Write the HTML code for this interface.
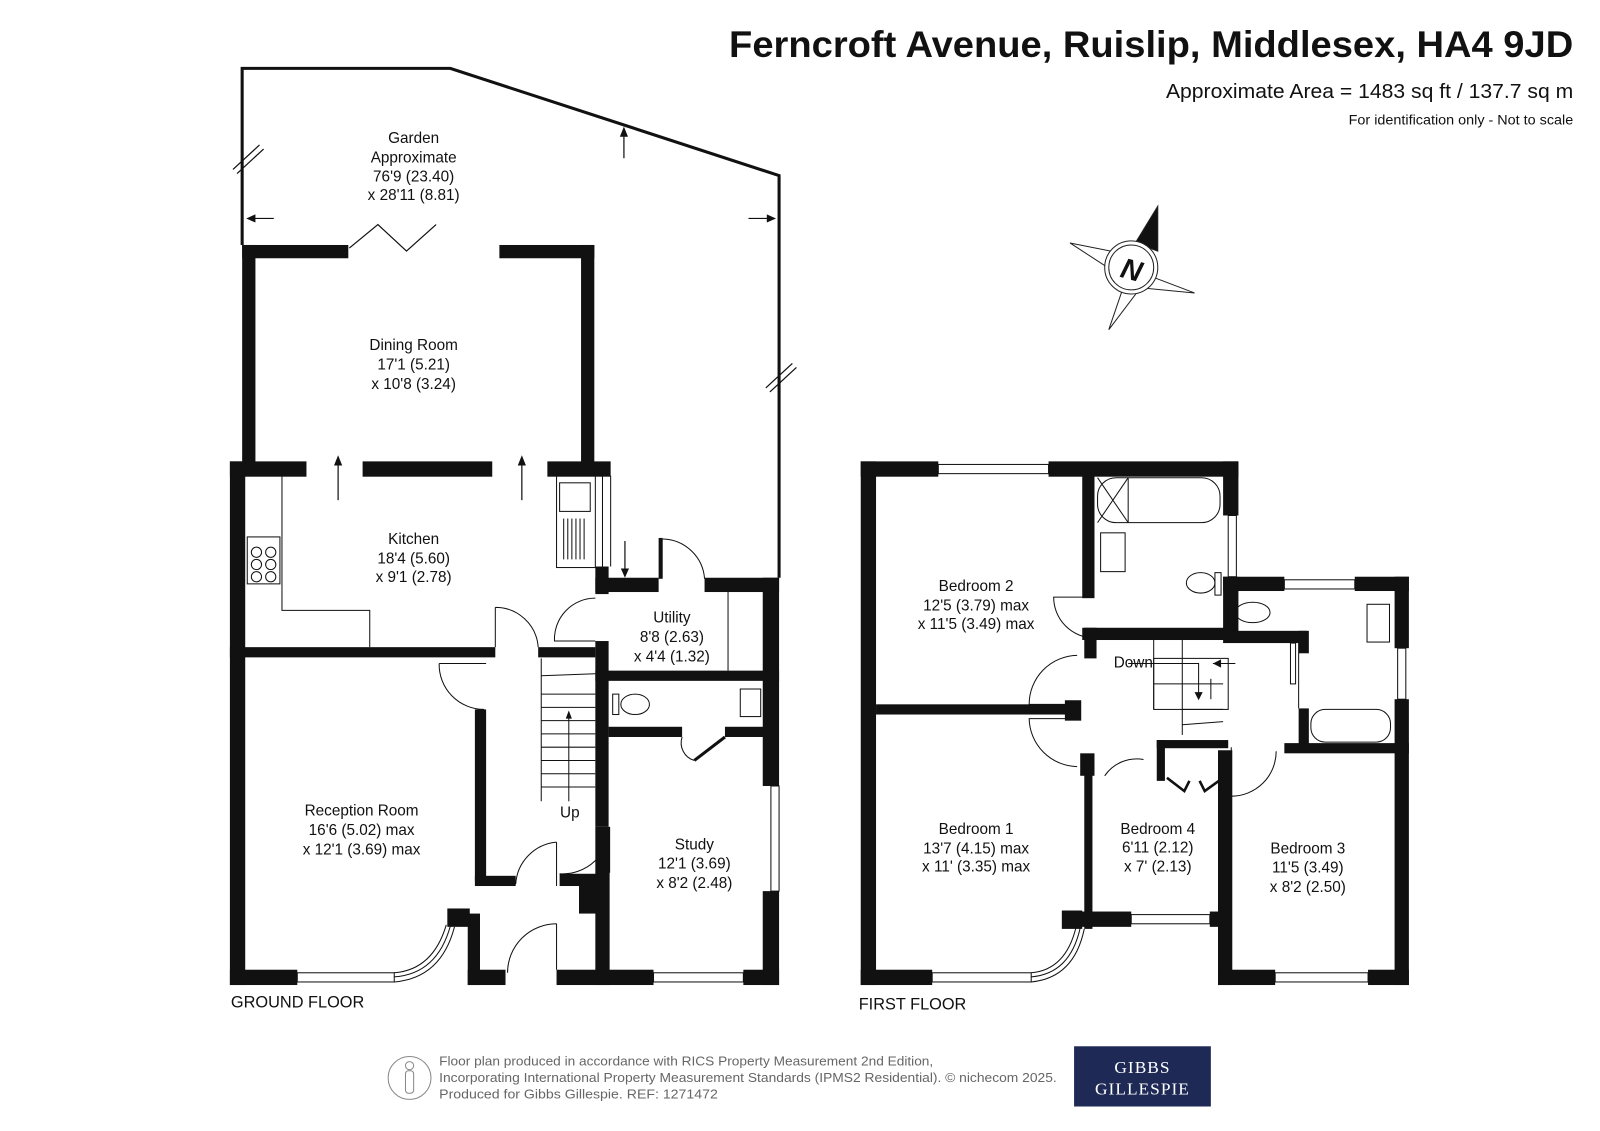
<!DOCTYPE html>
<html><head><meta charset="utf-8"><style>
html,body{margin:0;padding:0;background:#fff;}
svg{display:block;}
text{font-family:"Liberation Sans",sans-serif;fill:#111;}
.t{font-size:15px;text-anchor:middle;}
</style></head><body>
<svg width="1600" height="1131" viewBox="0 0 1567 1108" xmlns="http://www.w3.org/2000/svg">
<rect width="1567" height="1108" fill="#fff"/>
<!-- Header -->
<text x="714" y="56" font-size="36" font-weight="bold" textLength="827" lengthAdjust="spacingAndGlyphs">Ferncroft Avenue, Ruislip, Middlesex, HA4 9JD</text>
<text x="1142" y="96" font-size="20" textLength="399" lengthAdjust="spacingAndGlyphs">Approximate Area = 1483 sq ft / 137.7 sq m</text>
<text x="1321" y="122" font-size="13.5" textLength="220" lengthAdjust="spacingAndGlyphs">For identification only - Not to scale</text>

<!-- Compass -->
<g stroke="#222" stroke-width="1" fill="none">
<polygon points="1048,238 1098,248 1094,268" />
<polygon points="1170,287 1120,268 1118,282" />
<polygon points="1086,323 1100,282 1114,286" />
<polygon points="1134,202 1112,238 1134,246" fill="#111"/>
<circle cx="1108" cy="262" r="26" fill="#fff"/>
<circle cx="1108" cy="262" r="22"/>
</g>
<text x="1109" y="274" font-size="28" font-weight="bold" font-style="italic" text-anchor="middle" transform="rotate(15 1109 262)">N</text>

<!-- GROUND FLOOR -->
<g fill="none" stroke="#111" stroke-width="3">
<polyline points="237,240 237,67 441,67 763,172 763,566"/>
</g>
<g stroke="#111" stroke-width="1.2" fill="none">
<line x1="228" y1="166" x2="254" y2="142"/><line x1="232" y1="170" x2="258" y2="146"/>
<line x1="750" y1="380" x2="776" y2="356"/><line x1="754" y1="384" x2="780" y2="360"/>
<line x1="611" y1="155" x2="611" y2="128"/>
<line x1="268" y1="214" x2="243" y2="214"/>
<line x1="733" y1="214" x2="758" y2="214"/>
<polyline points="342,243 370,220 398,246 427,220"/>
<line x1="331" y1="490" x2="331" y2="450"/>
<line x1="511" y1="490" x2="511" y2="450"/>
<line x1="612" y1="530" x2="612" y2="562"/>
</g>
<g fill="#111">
<polygon points="611,124 607,134 615,134"/>
<polygon points="241,214 250,210 250,218"/>
<polygon points="760,214 751,210 751,218"/>
<polygon points="331,446 327,456 335,456"/>
<polygon points="511,446 507,456 515,456"/>
<polygon points="612,566 608,557 616,557"/>
</g>
<text class="t" x="405" y="140">Garden</text>
<text class="t" x="405" y="159">Approximate</text>
<text class="t" x="405" y="178">76'9 (23.40)</text>
<text class="t" x="405" y="196">x 28'11 (8.81)</text>

<g fill="#111">
<rect x="237" y="240" width="104" height="13"/>
<rect x="489" y="240" width="93" height="13"/>
<rect x="237" y="240" width="13" height="215"/>
<rect x="569" y="240" width="13" height="215"/>
<rect x="225" y="452" width="75" height="15"/>
<rect x="355" y="452" width="127" height="15"/>
<rect x="536" y="452" width="62" height="15"/>
<rect x="225" y="452" width="15" height="513"/>
<rect x="583" y="555" width="13" height="27"/>
<rect x="583" y="566" width="62" height="14"/>
<rect x="690" y="566" width="73" height="14"/>
<rect x="645" y="527" width="4" height="40"/>
<rect x="747" y="566" width="16" height="204"/>
<rect x="747" y="873" width="16" height="92"/>
<rect x="583" y="657" width="180" height="10"/>
<rect x="583" y="628" width="13" height="182"/>
<rect x="225" y="634" width="260" height="10"/>
<rect x="527" y="634" width="56" height="10"/>
<rect x="465" y="695" width="11" height="168"/>
<rect x="596" y="712" width="72" height="10"/>
<rect x="710" y="712" width="40" height="10"/>
<rect x="465" y="858" width="40" height="10"/>
<rect x="548" y="856" width="36" height="12"/>
<rect x="567" y="860" width="17" height="35"/>
<rect x="583" y="810" width="14" height="155"/>
<rect x="458" y="895" width="12" height="70"/>
<rect x="438" y="890" width="22" height="18"/>
<rect x="458" y="950" width="37" height="15"/>
<rect x="545" y="950" width="95" height="15"/>
<rect x="728" y="950" width="35" height="15"/>
<rect x="225" y="950" width="66" height="15"/>
</g>
<g stroke="#111" stroke-width="1" fill="none">
<rect x="291" y="953" width="95" height="9"/>
<rect x="640" y="953" width="88" height="9"/>
<rect x="755" y="770" width="8" height="103"/>
<line x1="598" y1="466" x2="598" y2="555"/><line x1="590" y1="466" x2="590" y2="555"/>
<path d="M386,962 Q432,958 445,908"/><path d="M386,953 Q424,950 437,906"/><path d="M386,957 Q428,954 441,907"/>
<polyline points="276,466 276,598 362,598 362,634"/>
<rect x="545" y="466" width="38" height="90"/>
<rect x="548" y="473" width="30" height="28"/>
<rect x="242" y="526" width="32" height="46"/>
<circle cx="251" cy="541" r="5"/><circle cx="265" cy="541" r="5"/>
<circle cx="251" cy="553" r="5"/><circle cx="265" cy="553" r="5"/>
<circle cx="251" cy="565" r="5"/><circle cx="265" cy="565" r="5"/>
<path d="M649,528 A42,42 0 0 1 690,567"/>
<path d="M583,586 A40,40 0 0 0 543,628 L583,628"/>
<path d="M485,595 L485,634 M485,595 A42,42 0 0 1 527,634"/>
<path d="M430,650 L476,650 M430,650 A44,44 0 0 0 474,695"/>
<path d="M597,810 L597,855 M597,810 A46,46 0 0 1 548,856"/>
<path d="M545,825 L545,868 M545,825 A44,44 0 0 0 505,866"/>
<path d="M545,905 L545,950 M545,905 A48,48 0 0 0 497,953"/>
<path d="M668,722 A18,18 0 0 0 680,745"/>
<line x1="530" y1="645" x2="530" y2="785"/>
<line x1="530" y1="662" x2="583" y2="660"/>
<line x1="530" y1="680" x2="583" y2="680"/><line x1="530" y1="693" x2="583" y2="693"/>
<line x1="530" y1="706" x2="583" y2="706"/><line x1="530" y1="719" x2="583" y2="719"/>
<line x1="530" y1="732" x2="583" y2="732"/><line x1="530" y1="745" x2="583" y2="745"/>
<line x1="530" y1="758" x2="583" y2="758"/><line x1="530" y1="771" x2="583" y2="771"/>
<line x1="557" y1="785" x2="557" y2="700"/>
<ellipse cx="622" cy="690" rx="14" ry="10"/><rect x="600" y="680" width="6" height="20"/>
<rect x="725" y="675" width="20" height="27"/>
<line x1="713" y1="580" x2="713" y2="657"/>
</g>
<polygon points="557,696 554,704 560,704" fill="#111"/>
<line x1="680" y1="745" x2="710" y2="722" stroke="#111" stroke-width="3"/>
<g stroke="#111" stroke-width="1">
<line x1="552" y1="508" x2="552" y2="548"/><line x1="556" y1="508" x2="556" y2="548"/><line x1="560" y1="508" x2="560" y2="548"/><line x1="564" y1="508" x2="564" y2="548"/><line x1="568" y1="508" x2="568" y2="548"/><line x1="572" y1="508" x2="572" y2="548"/>
</g>
<text class="t" x="405" y="343">Dining Room</text>
<text class="t" x="405" y="362">17'1 (5.21)</text>
<text class="t" x="405" y="381">x 10'8 (3.24)</text>
<text class="t" x="405" y="533">Kitchen</text>
<text class="t" x="405" y="552">18'4 (5.60)</text>
<text class="t" x="405" y="570">x 9'1 (2.78)</text>
<text class="t" x="658" y="610">Utility</text>
<text class="t" x="658" y="629">8'8 (2.63)</text>
<text class="t" x="658" y="648">x 4'4 (1.32)</text>
<text class="t" x="354" y="799">Reception Room</text>
<text class="t" x="354" y="818">16'6 (5.02) max</text>
<text class="t" x="354" y="837">x 12'1 (3.69) max</text>
<text class="t" x="680" y="832">Study</text>
<text class="t" x="680" y="851">12'1 (3.69)</text>
<text class="t" x="680" y="870">x 8'2 (2.48)</text>
<text class="t" x="558" y="801" font-size="13.5">Up</text>
<text x="226" y="987" font-size="16">GROUND FLOOR</text>

<!-- FIRST FLOOR -->
<g fill="#111">
<rect x="843" y="452" width="15" height="513"/>
<rect x="843" y="452" width="76" height="15"/>
<rect x="1027" y="452" width="186" height="15"/>
<rect x="1198" y="452" width="15" height="53"/>
<rect x="1198" y="565" width="15" height="62"/>
<rect x="1060" y="466" width="12" height="120"/>
<rect x="1060" y="615" width="140" height="12"/>
<rect x="1062" y="615" width="12" height="30"/>
<rect x="858" y="690" width="190" height="10"/>
<rect x="1043" y="686" width="16" height="20"/>
<rect x="1058" y="738" width="14" height="22"/>
<rect x="1062" y="750" width="8" height="160"/>
<rect x="1198" y="565" width="60" height="14"/>
<rect x="1327" y="565" width="53" height="14"/>
<rect x="1366" y="565" width="14" height="70"/>
<rect x="1366" y="685" width="14" height="280"/>
<rect x="1198" y="618" width="82" height="12"/>
<rect x="1272" y="618" width="10" height="22"/>
<rect x="1272" y="694" width="10" height="42"/>
<rect x="1258" y="728" width="122" height="10"/>
<rect x="1193" y="735" width="14" height="230"/>
<rect x="1133" y="725" width="70" height="8"/>
<rect x="1133" y="725" width="8" height="40"/>
<rect x="1058" y="893" width="50" height="15"/>
<rect x="1185" y="893" width="20" height="15"/>
<rect x="1040" y="892" width="20" height="18"/>
<rect x="843" y="950" width="70" height="15"/>
<rect x="1193" y="950" width="56" height="15"/>
<rect x="1340" y="950" width="40" height="15"/>
</g>
<g stroke="#111" stroke-width="1" fill="none">
<rect x="919" y="455" width="108" height="9"/>
<rect x="1203" y="505" width="8" height="60"/>
<rect x="1258" y="568" width="69" height="9"/>
<rect x="1369" y="635" width="8" height="50"/>
<rect x="1108" y="896" width="77" height="9"/>
<rect x="1249" y="953" width="91" height="9"/>
<rect x="913" y="953" width="97" height="9"/>
<path d="M1010,962 Q1052,958 1062,910"/><path d="M1010,953 Q1044,950 1054,908"/><path d="M1010,957 Q1048,954 1058,909"/>
<rect x="1075" y="468" width="120" height="44" rx="18"/>
<line x1="1075" y1="468" x2="1105" y2="512"/><line x1="1105" y1="468" x2="1075" y2="512"/><line x1="1105" y1="468" x2="1105" y2="512"/>
<rect x="1078" y="522" width="24" height="38"/>
<ellipse cx="1176" cy="571" rx="14" ry="10"/><rect x="1190" y="561" width="6" height="22"/>
<path d="M1072,585 L1032,585 A40,40 0 0 0 1072,625"/>
<ellipse cx="1227" cy="600" rx="17" ry="10"/><rect x="1204" y="590" width="6" height="22"/>
<rect x="1339" y="592" width="22" height="37"/>
<rect x="1284" y="695" width="78" height="32" rx="14"/>
<line x1="1272" y1="630" x2="1272" y2="694"/>
<rect x="1264" y="630" width="5" height="40"/>
<rect x="1130" y="645" width="73" height="50"/>
<line x1="1130" y1="627" x2="1130" y2="695"/>
<line x1="1158" y1="627" x2="1158" y2="720"/>
<line x1="1130" y1="670" x2="1198" y2="670"/>
<line x1="1158" y1="695" x2="1198" y2="695"/>
<line x1="1158" y1="710" x2="1198" y2="707"/>
<polyline points="1105,650 1174,650 1174,680"/>
<line x1="1210" y1="650" x2="1188" y2="650"/>
<path d="M1055,642 A48,48 0 0 0 1008,690 L1055,690"/>
<path d="M1055,751 A48,48 0 0 1 1008,704 L1055,704"/>
<path d="M1120,744 A38,38 0 0 0 1082,760"/>
<path d="M1206,732 L1206,780 A44,44 0 0 0 1250,736"/>
<line x1="1186" y1="665" x2="1186" y2="685"/>
</g>
<g stroke="#111" stroke-width="2.5" fill="none">
<polyline points="1143,762 1160,775 1165,765"/><polyline points="1198,762 1180,775 1175,765"/>
</g>
<g fill="#111">
<polygon points="1188,650 1196,646 1196,654"/>
<polygon points="1174,686 1170,678 1178,678"/>
</g>
<text class="t" x="956" y="579">Bedroom 2</text>
<text class="t" x="956" y="598">12'5 (3.79) max</text>
<text class="t" x="956" y="616">x 11'5 (3.49) max</text>
<text class="t" x="956" y="817">Bedroom 1</text>
<text class="t" x="956" y="836">13'7 (4.15) max</text>
<text class="t" x="956" y="854">x 11' (3.35) max</text>
<text class="t" x="1134" y="817">Bedroom 4</text>
<text class="t" x="1134" y="835">6'11 (2.12)</text>
<text class="t" x="1134" y="854">x 7' (2.13)</text>
<text class="t" x="1281" y="836">Bedroom 3</text>
<text class="t" x="1281" y="855">11'5 (3.49)</text>
<text class="t" x="1281" y="874">x 8'2 (2.50)</text>
<text class="t" x="1110" y="654" font-size="13.5">Down</text>
<text x="841" y="989" font-size="16">FIRST FLOOR</text>

<!-- Footer -->
<g stroke="#888" stroke-width="1" fill="none">
<circle cx="401" cy="1056" r="21"/>
<circle cx="401" cy="1044" r="4"/>
<rect x="397" y="1049" width="8" height="22" rx="3"/>
</g>
<text x="430" y="1044" font-size="12.5" style="fill:#666" textLength="484" lengthAdjust="spacingAndGlyphs">Floor plan produced in accordance with RICS Property Measurement 2nd Edition,</text>
<text x="430" y="1060" font-size="12.5" style="fill:#666" textLength="605" lengthAdjust="spacingAndGlyphs">Incorporating International Property Measurement Standards (IPMS2 Residential).   © nichecom 2025.</text>
<text x="430" y="1076" font-size="12.5" style="fill:#666" textLength="273" lengthAdjust="spacingAndGlyphs">Produced for Gibbs Gillespie.    REF: 1271472</text>
<rect x="1052" y="1025" width="134" height="59" fill="#1e2a55"/>
<text x="1119" y="1051" font-size="17" text-anchor="middle" style="fill:#fff;font-family:'Liberation Serif',serif;letter-spacing:1px">GIBBS</text>
<text x="1119" y="1072" font-size="17" text-anchor="middle" style="fill:#fff;font-family:'Liberation Serif',serif;letter-spacing:1px">GILLESPIE</text>
</svg>
</body></html>
